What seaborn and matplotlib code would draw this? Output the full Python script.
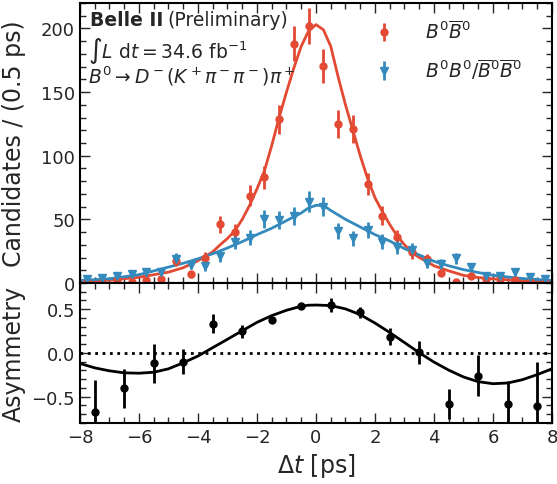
import numpy as np
import seaborn as sns
import matplotlib.pyplot as plt
from matplotlib.ticker import MultipleLocator

# binned data, 0.5 ps bins
dt_bins = np.arange(-7.75, 8.0, 0.5)
n_opposite = [1, 1, 2, 1, 2, 3, 17.5, 6.8, 20, 46, 40, 68.5, 83, 128.6, 188, 202,
              170.5, 124.7, 121, 77.6, 53, 35.8, 24, 18.8, 8, 1, 5.7, 3, 3, 2, 1, 1]
n_same = [3, 3.7, 5.2, 7, 8.4, 8.4, 19, 14.5, 13, 21.5, 32, 35.5, 50, 49.5, 52.5, 64,
          60, 41, 35, 41.5, 32.5, 28.5, 26, 15.5, 15, 19.5, 12.3, 5.7, 5.7, 8.4, 4.5, 3]

# fit curves
fit_x_opp = [-8, -7, -6, -5, -4.5, -4, -3.5, -3.25, -3, -2.75, -2.5, -2.25, -2, -1.75,
             -1.5, -1.25, -1, -0.75, -0.5, -0.25, 0, 0.25, 0.5, 0.75, 1, 1.25, 1.5,
             1.75, 2, 2.25, 2.5, 2.75, 3, 3.25, 3.5, 3.75, 4, 4.5, 5, 5.5, 6, 7, 8]
fit_y_opp = [1.0, 2.2, 4.5, 8.5, 12, 17.5, 24.5, 30, 35, 41, 50, 61, 74, 88,
             108, 130, 150, 169, 186, 198, 203, 199, 186, 162, 140, 120, 100,
             82, 67, 56, 46, 37, 30, 24, 20, 17, 13.5, 9.5, 6, 4.3, 3.2, 1.8, 1.2]
fit_x_same = [-8, -7, -6, -5, -4.5, -4, -3.5, -3, -2.5, -2, -1.5, -1, -0.5, -0.25, 0,
              0.25, 0.5, 0.75, 1, 1.5, 2, 2.5, 3, 3.5, 4, 4.5, 5, 6, 7, 8]
fit_y_same = [2, 3.3, 6.5, 12.5, 15.5, 19, 23, 27.5, 32.5, 38, 43, 49, 55, 59, 61,
              61, 57, 53.5, 50, 44, 38, 33, 27, 22, 17, 13.5, 10.5, 6, 3.5, 2]

# asymmetry, 1 ps bins
asym_x = np.arange(-7.5, 8.0, 1.0)
asym = [-0.68, -0.405, -0.12, -0.10, 0.335, 0.246, 0.377, 0.535,
        0.546, 0.465, 0.188, 0.007, -0.582, -0.262, -0.585, -0.605]
asym_err = [0.37, 0.22, 0.22, 0.144, 0.106, 0.079, 0.035, 0.02,
            0.083, 0.063, 0.096, 0.129, 0.17, 0.235, 0.27, 0.5]
asym_fit_x = [-8, -7.5, -7, -6.5, -6, -5.5, -5, -4.5, -4, -3.5, -3, -2.5, -2, -1.5,
              -1, -0.5, -0.25, 0, 0.5, 1, 1.5, 2, 2.5, 3, 3.5, 4, 4.5, 5, 5.5, 6,
              6.5, 7, 7.5, 8]
asym_fit_y = [-0.12, -0.17, -0.204, -0.227, -0.231, -0.22, -0.181, -0.112, -0.035,
              0.061, 0.157, 0.254, 0.35, 0.427, 0.488, 0.535, 0.546, 0.548, 0.542,
              0.504, 0.438, 0.342, 0.234, 0.119, 0.003, -0.104, -0.196, -0.274,
              -0.328, -0.351, -0.343, -0.305, -0.247, -0.181]

red = '#E24A33'
blue = '#348ABD'

sns.set_style("ticks")
plt.rcParams['font.family'] = ['DejaVu Sans']
plt.rcParams['mathtext.fontset'] = 'dejavusans'

fig = plt.figure(figsize=(5.57, 4.85), dpi=100)
gs = fig.add_gridspec(2, 1, height_ratios=[2, 1], hspace=0,
                      left=0.1436, right=0.991, top=0.9918, bottom=0.1258)
ax = fig.add_subplot(gs[0])
ax2 = fig.add_subplot(gs[1], sharex=ax)

# top panel
sns.lineplot(x=fit_x_opp, y=fit_y_opp, ax=ax, color=red, lw=2.0)
sns.lineplot(x=fit_x_same, y=fit_y_same, ax=ax, color=blue, lw=2.0)
h1 = ax.errorbar(dt_bins, n_opposite, yerr=np.sqrt(n_opposite), fmt='o', color=red,
                 ms=5, elinewidth=2, capsize=0, label=r'$B^0\overline{B}^0$')
h2 = ax.errorbar(dt_bins, n_same, yerr=np.sqrt(n_same), fmt='v', color=blue,
                 ms=6, elinewidth=2, capsize=0,
                 label=r'$B^0B^0/\overline{B}^0\overline{B}^0$')
ax.set_ylim(0, 220)
ax.set_xlim(-8, 8)
ax.set_ylabel('Candidates / (0.5 ps)', fontsize=17)
ax.yaxis.set_major_locator(MultipleLocator(50))
ax.yaxis.set_minor_locator(MultipleLocator(10))
ax.legend(handles=[h1, h2], loc='upper left', bbox_to_anchor=(0.585, 1.0),
          frameon=False, fontsize=13.5, handlelength=1.2, handletextpad=1.6,
          labelspacing=0.75)

ax.text(0.021, 0.975, 'Belle II', transform=ax.transAxes, fontsize=13.5,
        va='top', ha='left', fontweight='bold')
ax.text(0.186, 0.975, '(Preliminary)', transform=ax.transAxes, fontsize=13.5,
        va='top', ha='left')
ax.text(0.018, 0.885, r'$\int L\ \mathrm{d}t = 34.6\ \mathrm{fb}^{-1}$',
        transform=ax.transAxes, fontsize=13.5, va='top', ha='left')
ax.text(0.018, 0.785, r'$B^0 \rightarrow D^-(K^+\pi^-\pi^-)\pi^+$',
        transform=ax.transAxes, fontsize=13.5, va='top', ha='left')

# bottom panel
sns.lineplot(x=asym_fit_x, y=asym_fit_y, ax=ax2, color='black', lw=2.0)
ax2.errorbar(asym_x, asym, yerr=asym_err, fmt='o', color='black', ms=5,
             elinewidth=2, capsize=0)
ax2.axhline(0, color='black', ls=':', lw=2)
ax2.set_ylim(-0.8, 0.8)
ax2.set_ylabel('Asymmetry', fontsize=17)
ax2.set_xlabel(r'$\Delta t$ [ps]', fontsize=17)
ax2.xaxis.set_major_locator(MultipleLocator(2))
ax2.xaxis.set_minor_locator(MultipleLocator(0.5))
ax2.yaxis.set_major_locator(MultipleLocator(0.5))
ax2.yaxis.set_minor_locator(MultipleLocator(0.1))

for a in (ax, ax2):
    a.tick_params(which='both', direction='in', top=True, right=True, labelsize=13)
    a.tick_params(which='major', length=7, width=1)
    a.tick_params(which='minor', length=4, width=1)
    for s in a.spines.values():
        s.set_linewidth(1.5)
        s.set_color('black')
plt.setp(ax.get_xticklabels(), visible=False)
fig.align_ylabels([ax, ax2])

fig.savefig('out.png', dpi=100)
